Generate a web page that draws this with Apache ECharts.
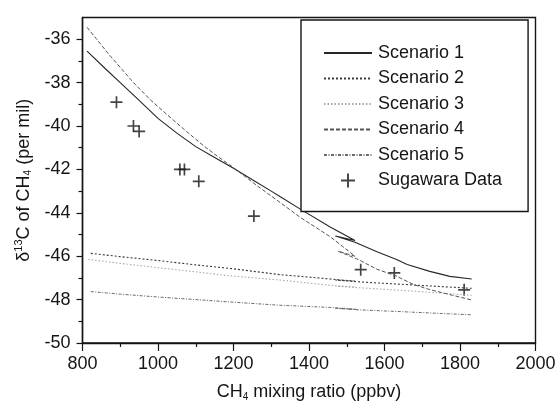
<!DOCTYPE html>
<html>
<head>
<meta charset="utf-8">
<script src="https://cdn.jsdelivr.net/npm/echarts@6/dist/echarts.min.js"></script>
<style>
html,body{margin:0;padding:0;background:#fff;}
#chart{width:559px;height:401px;}
</style>
</head>
<body>
<div id="chart"></div>
<script>
// ---- data ----
var xTicks = [800, 1000, 1200, 1400, 1600, 1800, 2000];
var yTicks = [-50, -48, -46, -44, -42, -40, -38, -36];
var yMinorTicks = [-49, -47, -45, -43, -41, -39, -37];

var seriesNames = ['Scenario 1', 'Scenario 2', 'Scenario 3', 'Scenario 4', 'Scenario 5', 'Sugawara Data'];

var scenario1 = [[812,-36.55],[860,-37.35],[900,-38.0],[950,-38.82],[1000,-39.65],[1050,-40.33],[1100,-40.95],[1150,-41.45],[1200,-41.95],[1250,-42.48],[1300,-43.0],[1323,-43.25],[1376,-43.82],[1456,-44.65],[1522,-45.28],[1470,-45.07],[1522,-45.36],[1580,-45.8],[1632,-46.15],[1660,-46.38],[1720,-46.7],[1773,-46.93],[1831,-47.05]];
var scenario2 = [[822,-45.87],[900,-46.02],[1000,-46.2],[1100,-46.4],[1200,-46.58],[1323,-46.85],[1456,-47.05],[1522,-47.15],[1470,-47.1],[1530,-47.18],[1600,-47.25],[1700,-47.35],[1831,-47.48]];
var scenario3 = [[815,-46.15],[900,-46.33],[1000,-46.53],[1100,-46.72],[1182,-46.89],[1323,-47.1],[1456,-47.34],[1522,-47.42],[1470,-47.38],[1530,-47.45],[1650,-47.58],[1750,-47.7],[1831,-47.8]];
var scenario4 = [[812,-35.45],[870,-36.7],[935,-38.0],[980,-38.8],[1023,-39.46],[1070,-40.17],[1111,-40.77],[1150,-41.3],[1200,-41.92],[1260,-42.72],[1323,-43.52],[1376,-44.2],[1456,-45.1],[1522,-46.0],[1477,-45.77],[1530,-46.15],[1580,-46.6],[1632,-46.92],[1676,-47.3],[1720,-47.54],[1780,-47.8],[1831,-48.02]];
var scenario5 = [[822,-47.63],[900,-47.75],[1000,-47.88],[1100,-48.0],[1200,-48.12],[1323,-48.26],[1456,-48.36],[1526,-48.45],[1470,-48.4],[1530,-48.47],[1650,-48.56],[1750,-48.64],[1831,-48.7]];

var sugawaraX = [890, 935, 950, 1058, 1070, 1108, 1254, 1537, 1626, 1811];
var sugawaraY = [-38.9, -40.0, -40.25, -42.0, -42.0, -42.55, -44.15, -46.62, -46.77, -47.55];

// ---- chart ----
var FONT = '"Liberation Sans", Arial, Helvetica, sans-serif';
var INK = '#151515';
var crossPath = 'path://M4.3,0h1.4v10h-1.4z M0,4.3h10v1.4h-10z';

var sugawara = sugawaraX.map(function (x, i) { return [x, sugawaraY[i]]; });

function lineSeries(name, data, color, type, width) {
  return {
    name: name, type: 'line', data: data, showSymbol: false, symbol: 'none',
    smooth: false, silent: true, animation: false,
    lineStyle: { color: color, width: width, type: type },
    itemStyle: { color: color }
  };
}

var legendData = seriesNames.slice(0, 5).map(function (n) {
  return { name: n, itemStyle: { opacity: 0 } };
}).concat([{ name: seriesNames[5], icon: crossPath, itemStyle: { color: INK } }]);

var chart = echarts.init(document.getElementById('chart'), null, { renderer: 'canvas' });
chart.setOption({
  backgroundColor: '#ffffff',
  animation: false,
  textStyle: { fontFamily: FONT, color: INK },
  grid: { left: 82.5, right: 23.5, top: 17.5, bottom: 58, containLabel: false, outerBoundsMode: 'none', show: true, borderColor: INK, borderWidth: 1.4, backgroundColor: 'transparent' },
  legend: {
    orient: 'vertical', left: 301, top: 20,
    padding: [24, 26, 22, 22],
    itemGap: 7.5, itemWidth: 48, itemHeight: 14,
    backgroundColor: '#ffffff', borderColor: INK, borderWidth: 1.4, borderRadius: 0,
    textStyle: { fontFamily: FONT, fontSize: 18, color: INK, padding: [0, 0, 0, 1] },
    data: legendData
  },
  xAxis: {
    type: 'value', min: xTicks[0], max: xTicks[xTicks.length - 1], interval: 200,
    name: '{a|CH}{s|4}{a| mixing ratio (ppbv)}', nameLocation: 'middle', nameGap: 39,
    nameTextStyle: { rich: { a: { fontFamily: FONT, fontSize: 18, color: INK }, s: { fontFamily: FONT, fontSize: 10, color: INK, verticalAlign: 'bottom', padding: [10, 0, 0, 0] } } },
    axisLine: { show: true, onZero: false, lineStyle: { color: INK, width: 1.4 } },
    axisTick: { show: true, inside: false, length: 8, lineStyle: { color: INK, width: 1.2 } },
    minorTick: { show: true, splitNumber: 2, length: 4, lineStyle: { color: INK, width: 1.2 } },
    axisLabel: { fontFamily: FONT, fontSize: 18, color: INK, margin: 12, formatter: function (v) { return String(v); } },
    splitLine: { show: false }
  },
  yAxis: [{
    type: 'value', min: -50, max: -35, interval: 2,
    name: '{a|δ}{u|13}{a|C of CH}{s|4}{a| (per mil)}', nameLocation: 'middle', nameGap: 45, nameRotate: 90,
    nameTextStyle: { rich: { a: { fontFamily: FONT, fontSize: 18, color: INK }, u: { fontFamily: FONT, fontSize: 11, color: INK, verticalAlign: 'top', padding: [0, 0, 8, 0] }, s: { fontFamily: FONT, fontSize: 10, color: INK, verticalAlign: 'bottom', padding: [10, 0, 0, 0] } } },
    axisLine: { show: true, onZero: false, lineStyle: { color: INK, width: 1.4 } },
    axisTick: { show: true, inside: false, length: 6, customValues: yTicks, lineStyle: { color: INK, width: 1.2 } },
    axisLabel: { fontFamily: FONT, fontSize: 18, color: INK, margin: 12, customValues: yTicks },
    splitLine: { show: false }
  }, {
    type: 'value', min: -50, max: -35, position: 'left', offset: 0,
    axisLine: { show: false },
    axisTick: { show: true, inside: false, length: 4, customValues: yMinorTicks, lineStyle: { color: INK, width: 1.2 } },
    axisLabel: { show: false },
    splitLine: { show: false }
  }],
  series: [
    lineSeries(seriesNames[0], scenario1, '#262626', 'solid', 1.1),
    lineSeries(seriesNames[1], scenario2, '#3a3a3a', [2, 2], 1.1),
    lineSeries(seriesNames[2], scenario3, '#a8a8a8', [1.5, 2], 1.1),
    lineSeries(seriesNames[3], scenario4, '#555555', [4, 2], 1.0),
    lineSeries(seriesNames[4], scenario5, '#6a6a6a', [3, 1.5, 1, 1.5], 1.0),
    {
      name: seriesNames[5], type: 'scatter', data: sugawara,
      symbol: crossPath, symbolSize: 12, symbolKeepAspect: true,
      itemStyle: { color: INK }, silent: true
    }
  ]
});
</script>
</body>
</html>
